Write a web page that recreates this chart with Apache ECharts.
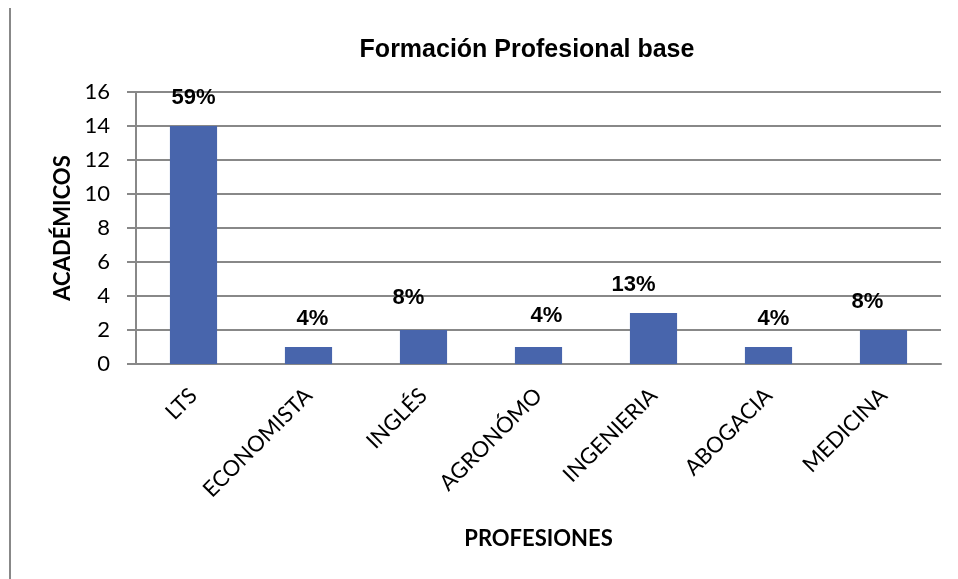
<!DOCTYPE html>
<html>
<head>
<meta charset="utf-8">
<script src="https://cdn.jsdelivr.net/npm/echarts@6/dist/echarts.min.js"></script>
<style>
    html, body { margin: 0; padding: 0; background: #fff; }
    #chart { width: 958px; height: 579px; }
</style>
</head>
<body>
<div id="chart"></div>
<script>
    // profesiones y número de académicos
    const categories = ['LTS', 'ECONOMISTA', 'INGLÉS', 'AGRONÓMO', 'INGENIERIA', 'ABOGACIA', 'MEDICINA'];
    const academicos = [14, 1, 2, 1, 3, 1, 2];
    const porcentajes = ['59%', '4%', '8%', '4%', '13%', '4%', '8%'];

    // desplazamiento de cada etiqueta (sólo estilo)
    const labelShift = [[0, 0], [4, 0], [-15, -4], [8, -3], [-20, 0], [5, 0], [-16, 0]];

    const chart = echarts.init(document.getElementById('chart'));

    chart.setOption({
        backgroundColor: '#fff',
        animation: false,
        title: {
            text: 'Formación Profesional base',
            left: 522,
            textAlign: 'center',
            top: 33,
            textStyle: {fontFamily: 'Liberation Sans', fontWeight: 'bold', fontSize: 25, color: '#000'}
        },
        graphic: [{
            type: 'line',
            shape: {x1: 10, y1: 8, x2: 10, y2: 579},
            style: {stroke: '#888', lineWidth: 2}
        }],
        grid: {left: 136, right: 17, top: 92, bottom: 215},
        xAxis: {
            type: 'category',
            data: categories,
            name: 'PROFESIONES',
            nameLocation: 'middle',
            nameGap: 164,
            nameTextStyle: {fontFamily: 'Lato', fontWeight: 'bold', fontSize: 22, color: '#000'},
            axisLine: {lineStyle: {color: '#888', width: 2}},
            axisTick: {show: false},
            axisLabel: {
                rotate: 45,
                margin: 28,
                fontFamily: 'Lato',
                fontSize: 22,
                color: '#000'
            }
        },
        yAxis: {
            type: 'value',
            min: 0,
            max: 16,
            interval: 2,
            name: 'ACADÉMICOS',
            nameLocation: 'middle',
            nameGap: 60,
            nameTextStyle: {fontFamily: 'Lato', fontWeight: 'bold', fontSize: 22, color: '#000'},
            axisLine: {show: true, lineStyle: {color: '#888', width: 2}},
            axisTick: {show: true, length: 9, lineStyle: {color: '#888', width: 2}},
            splitLine: {lineStyle: {color: '#888', width: 2}},
            axisLabel: {margin: 26, fontFamily: 'Lato', fontSize: 22, color: '#000'}
        },
        series: [{
            type: 'bar',
            barWidth: '41%',
            itemStyle: {color: '#4865ac'},
            data: academicos.map((v, i) => ({
                value: v,
                label: {offset: labelShift[i]}
            })),
            label: {
                show: true,
                position: 'top',
                distance: 17,
                formatter: p => porcentajes[p.dataIndex],
                fontFamily: 'Liberation Sans',
                fontWeight: 'bold',
                fontSize: 22,
                color: '#000'
            }
        }]
    });
</script>
</body>
</html>
